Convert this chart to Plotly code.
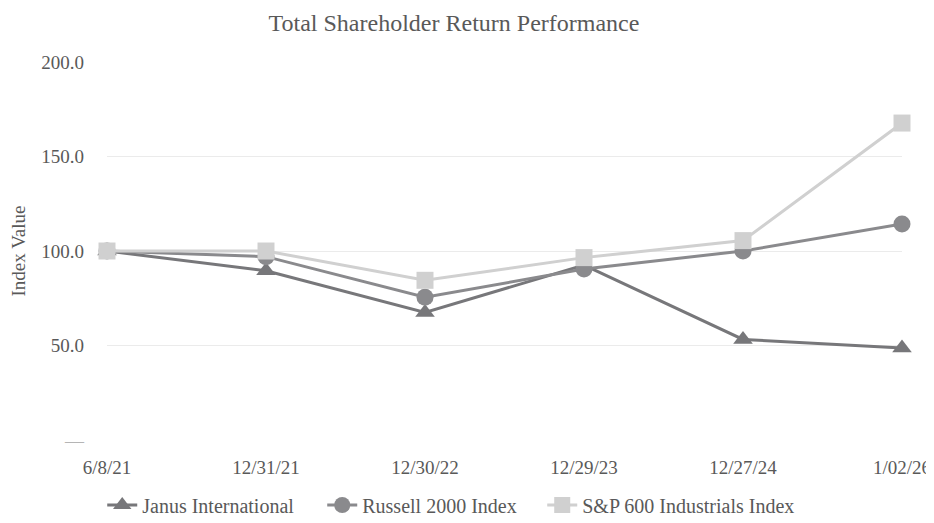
import plotly.graph_objects as go

categories = ["6/8/21", "12/31/21", "12/30/22", "12/29/23", "12/27/24", "1/02/26"]
janus = [100.0, 89.5, 67.5, 92.5, 53.2, 48.7]
russell = [100.0, 97.0, 75.5, 90.5, 100.0, 114.3]
sp600 = [100.0, 100.0, 84.5, 96.5, 105.5, 167.7]

y_tickvals = [0, 50, 100, 150, 200]
y_ticktext = ['<span style="color:#b5b5b5">—</span>', "50.0", "100.0", "150.0", "200.0"]

FONT = "Liberation Serif"
TXT = "#595959"

fig = go.Figure()
fig.add_trace(go.Scatter(
    x=categories, y=janus, name="Janus International", mode="lines+markers",
    line=dict(color="#77777a", width=3), cliponaxis=False, legendwidth=175,
    marker=dict(symbol="triangle-up", size=17, color="#77777a")))
fig.add_trace(go.Scatter(
    x=categories, y=russell, name="Russell 2000 Index", mode="lines+markers",
    line=dict(color="#8a8a8d", width=3), cliponaxis=False, legendwidth=175,
    marker=dict(symbol="circle", size=17, color="#8a8a8d")))
fig.add_trace(go.Scatter(
    x=categories, y=sp600, name="S&P 600 Industrials Index", mode="lines+markers",
    line=dict(color="#d0d0d0", width=3), cliponaxis=False,
    marker=dict(symbol="square", size=17, color="#d0d0d0")))

fig.update_layout(
    width=934, height=523,
    margin=dict(l=99, r=40, t=54, b=91, autoexpand=False),
    paper_bgcolor="white", plot_bgcolor="white",
    font=dict(family=FONT, color=TXT, size=19),
    title=dict(text="Total Shareholder Return Performance", x=0.4775, xanchor="center",
               y=0.973, yanchor="middle", font=dict(size=24, color=TXT, family=FONT)),
    showlegend=True,
    legend=dict(orientation="h", x=-0.006, xanchor="left", y=-0.172, yanchor="middle",
                font=dict(size=20, color=TXT, family=FONT), traceorder="normal"),
)
fig.update_xaxes(type="category", range=[0, 5], showgrid=False, showline=False,
                 zeroline=False, ticks="", ticklabelstandoff=14, automargin=False,
                 tickfont=dict(size=19, color=TXT, family=FONT))
fig.update_yaxes(range=[0, 200], tickvals=y_tickvals, ticktext=y_ticktext,
                 showgrid=True, gridcolor="#ebebeb", gridwidth=1, zeroline=False,
                 showline=False, ticks="", ticklabelstandoff=22, automargin=False,
                 tickfont=dict(size=19, color=TXT, family=FONT),
                 title=dict(text="Index Value", font=dict(size=19, color=TXT, family=FONT),
                            standoff=11))

fig.write_html("out.html")
